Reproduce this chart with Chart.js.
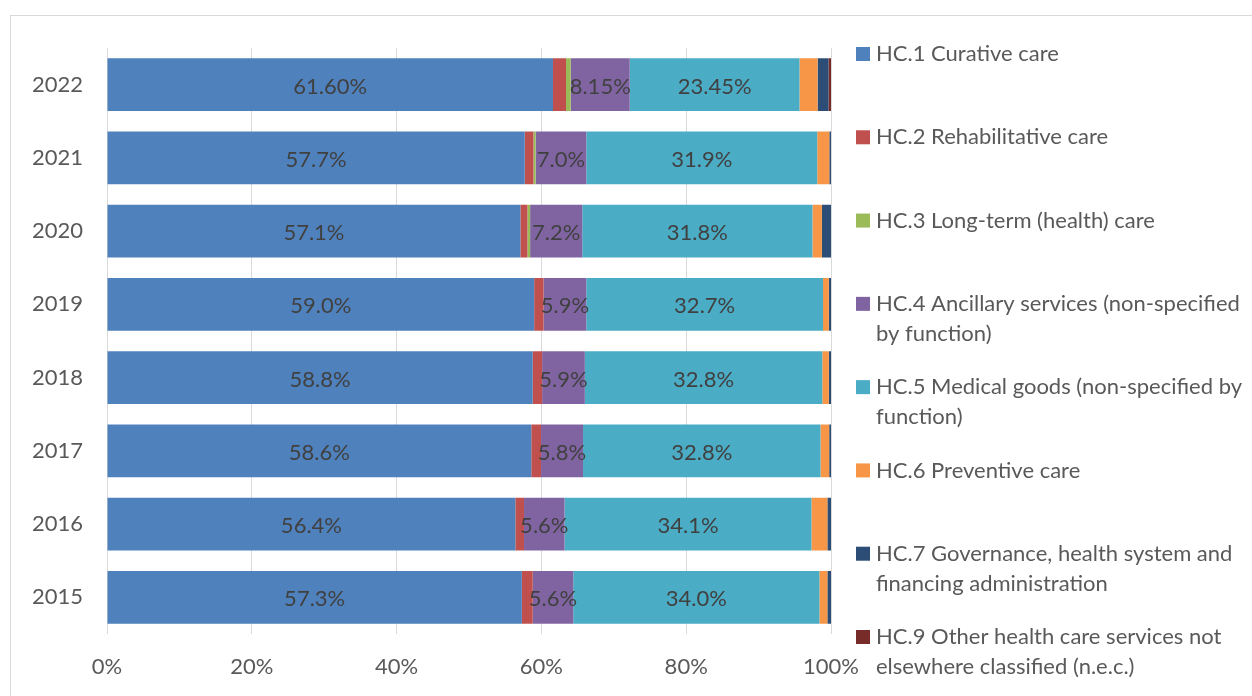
<!DOCTYPE html>
<html>
<head>
<meta charset="utf-8">
<script src="https://cdn.jsdelivr.net/npm/chart.js@4/dist/chart.umd.min.js"></script>
<style>
  html, body { margin: 0; padding: 0; background: #fff; overflow: hidden; }
  #wrap { position: relative; width: 1252px; height: 696px; }
</style>
</head>
<body>
<div id="wrap"><canvas id="chart" width="1252" height="696"></canvas></div>
<script>
// Share of current health expenditure by function (%), 2015-2022
const years = ['2015', '2016', '2017', '2018', '2019', '2020', '2021', '2022'];
const labelDecimals = [1, 1, 1, 1, 1, 1, 1, 2];

const curative       = [57.3, 56.4, 58.6, 58.8, 59.0, 57.1, 57.7, 61.60];
const rehabilitative = [1.5, 1.2, 1.35, 1.3, 1.3, 0.97, 1.2, 1.8];
const longTerm       = [0, 0, 0, 0, 0, 0.37, 0.3, 0.65];
const ancillary      = [5.6, 5.6, 5.8, 5.9, 5.9, 7.2, 7.0, 8.15];
const medicalGoods   = [34.0, 34.1, 32.8, 32.8, 32.7, 31.8, 31.9, 23.45];
const preventive     = [1.1, 2.2, 1.2, 0.9, 0.8, 1.3, 1.67, 2.5];
const governance     = [0.5, 0.5, 0.25, 0.3, 0.3, 1.26, 0.23, 1.5];
const otherServices  = [0, 0, 0, 0, 0, 0, 0, 0.35];

const xTicks = [0, 20, 40, 60, 80, 100];

// Series names; "\n" marks where the legend entry wraps
const seriesNames = [
  'HC.1 Curative care',
  'HC.2 Rehabilitative care',
  'HC.3 Long-term (health) care',
  'HC.4 Ancillary services (non-specified\nby function)',
  'HC.5 Medical goods (non-specified by\nfunction)',
  'HC.6 Preventive care',
  'HC.7 Governance, health system and\nfinancing administration',
  'HC.9 Other health care services not\nelsewhere classified (n.e.c.)'
];
const seriesValues = [curative, rehabilitative, longTerm, ancillary, medicalGoods, preventive, governance, otherServices];
const seriesColors = ['#4F81BD', '#C0504D', '#9BBB59', '#8064A2', '#4BACC6', '#F79646', '#2C4D75', '#772C2A'];
const labelledSeries = [0, 3, 4];

const FONT = 'Lato, "Open Sans", sans-serif';
const TEXT = '#595959';
const FONT_SIZE = 22;

// Light frame around the whole chart
const framePlugin = {
  id: 'frame',
  beforeDraw(chart) {
    const ctx = chart.ctx;
    ctx.save();
    ctx.fillStyle = '#fff';
    ctx.fillRect(0, 0, chart.width, chart.height);
    ctx.strokeStyle = '#D9D9D9';
    ctx.lineWidth = 1;
    ctx.strokeRect(10.5, 15.5, chart.width + 20, chart.height + 20);
    ctx.restore();
  }
};

// Percentage labels centred in the larger segments
const valueLabelPlugin = {
  id: 'valueLabels',
  afterDatasetsDraw(chart) {
    const ctx = chart.ctx;
    ctx.save();
    ctx.font = FONT_SIZE + 'px ' + FONT;
    ctx.fillStyle = '#404040';
    ctx.textAlign = 'center';
    ctx.textBaseline = 'middle';
    labelledSeries.forEach(i => {
      const meta = chart.getDatasetMeta(i);
      const values = chart.data.datasets[i].data;
      meta.data.forEach((bar, j) => {
        const v = values[j];
        const cx = (bar.x + bar.base) / 2;
        ctx.fillText(v.toFixed(labelDecimals[j]) + '%', cx, bar.y + 2);
      });
    });
    ctx.restore();
  }
};

// Right-hand legend with wrapped entries, evenly spaced down the chart
const sideLegendPlugin = {
  id: 'sideLegend',
  afterDraw(chart) {
    const ctx = chart.ctx;
    const area = chart.chartArea;
    const n = chart.data.datasets.length;
    const first = area.top + 6;
    const last = chart.height - 59;
    const step = (last - first) / (n - 1);
    const boxX = area.right + 25;
    ctx.save();
    ctx.font = FONT_SIZE + 'px ' + FONT;
    ctx.textBaseline = 'middle';
    ctx.textAlign = 'left';
    chart.data.datasets.forEach((ds, i) => {
      const y = first + i * step;
      ctx.fillStyle = ds.backgroundColor;
      ctx.fillRect(boxX, y - 7, 14, 14);
      ctx.fillStyle = TEXT;
      seriesNames[i].split('\n').forEach((line, k) => {
        ctx.fillText(line, boxX + 20, y + k * 30);
      });
    });
    ctx.restore();
  }
};

const datasets = seriesValues.map((vals, i) => ({
  label: seriesNames[i].replace('\n', ' '),
  data: vals,
  backgroundColor: seriesColors[i],
  borderWidth: 0,
  categoryPercentage: 1.0,
  barPercentage: 0.72
}));

new Chart(document.getElementById('chart'), {
  type: 'bar',
  data: { labels: years, datasets },
  options: {
    indexAxis: 'y',
    responsive: false,
    animation: false,
    layout: { padding: { left: 10, top: 48, right: 421, bottom: 0 } },
    plugins: {
      legend: { display: false },
      tooltip: { enabled: false }
    },
    scales: {
      x: {
        stacked: true,
        min: 0,
        max: 100,
        afterBuildTicks(scale) { scale.ticks = xTicks.map(v => ({ value: v })); },
        afterFit(scale) { scale.height = 62; },
        grid: { color: '#D9D9D9', lineWidth: 1, drawTicks: false },
        border: { display: false },
        ticks: {
          padding: 20,
          color: TEXT,
          font: { family: FONT, size: FONT_SIZE },
          callback: v => v + '%'
        }
      },
      y: {
        stacked: true,
        reverse: true,
        afterFit(scale) { scale.width = 97; },
        grid: { display: false },
        border: { display: false },
        ticks: {
          padding: 16,
          color: TEXT,
          font: { family: FONT, size: FONT_SIZE }
        }
      }
    }
  },
  plugins: [framePlugin, valueLabelPlugin, sideLegendPlugin]
});
</script>
</body>
</html>
